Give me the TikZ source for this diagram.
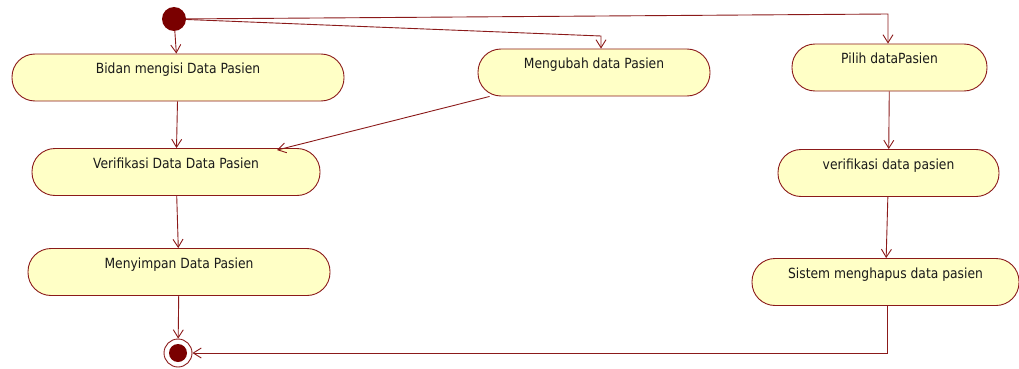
\documentclass[tikz,border=0pt]{standalone}
\usepackage{fontspec}
\setmainfont{DejaVu Sans}[FakeStretch=0.88]
\usetikzlibrary{arrows.meta}
\definecolor{umlred}{HTML}{8B1A1A}
\definecolor{umldot}{HTML}{7A0000}
\definecolor{umlfill}{HTML}{FFFFC6}
\definecolor{umltext}{HTML}{1A1A1A}
\begin{document}
\begin{tikzpicture}[x=1pt, y=-1pt,
		act/.style={rectangle, rounded corners=23pt, draw=umlred, fill=umlfill, line width=0.9pt, inner xsep=0pt, inner ysep=0pt, text height=19.5pt, text depth=27.5pt, text=umltext, font=\fontsize{14}{16}\selectfont},
		flow/.style={draw=umlred, line width=0.9pt, -{Straight Barb[length=8pt, width=10pt, line width=0.9pt]}}]
		\useasboundingbox (0,0) rectangle (1019,369);
		\node[circle, fill=umldot, minimum size=24pt, inner sep=0pt] (start) at (174,19) {};
		\node[act, minimum width=332pt] (bidan) at (178,77.5) {Bidan mengisi Data Pasien};
		\node[act, minimum width=288pt] (verif) at (176,172) {Verifikasi Data Data Pasien};
		\node[act, minimum width=302pt] (simpan) at (179,272) {Menyimpan Data Pasien};
		\node[act, minimum width=232pt] (ubah) at (594,72.5) {Mengubah data Pasien};
		\node[act, minimum width=195pt] (pilih) at (889.5,67.5) {Pilih dataPasien};
		\node[act, minimum width=221pt] (cek) at (888.5,173) {verifikasi data pasien};
		\node[act, minimum width=267pt] (hapus) at (885.5,282) {Sistem menghapus data pasien};
		\node[circle, draw=umlred, fill=white, line width=0.9pt, minimum size=28pt, inner sep=0pt] (end) at (178,353) {};
		\fill[umldot] (end.center) circle (9pt);
		\coordinate (k4) at (601,36);
		\coordinate (k5) at (888,14);
		\draw[flow] (start) -- (bidan);
		\draw[flow] (start) -- (k4) -- (k4 |- ubah.north);
		\draw[flow] (start) -- (k5) -- (k5 |- pilih.north);
		\draw[flow] (bidan) -- (verif);
		\draw[flow] ([xshift=12pt]ubah.south west) -- ([xshift=101pt, yshift=-2pt]verif.north);
		\draw[flow] (verif) -- (simpan);
		\draw[flow] (simpan) -- (end);
		\draw[flow] (pilih) -- (cek);
		\draw[flow] (cek) -- (hapus);
		\draw[flow] ([xshift=1.5pt]hapus.south) -- ([xshift=1.5pt]hapus.south |- end) -- (end);
	\end{tikzpicture}
\end{document}
